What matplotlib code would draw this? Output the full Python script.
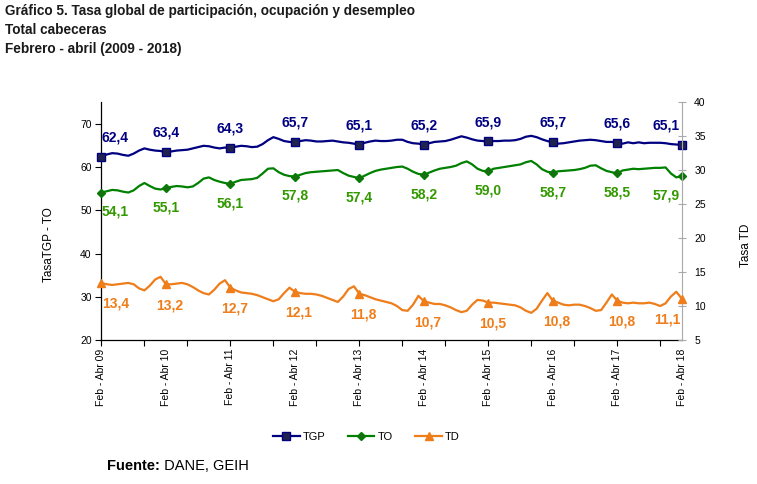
import numpy as np
import matplotlib.pyplot as plt
from matplotlib.ticker import FixedLocator, NullFormatter

plt.rcParams['font.family'] = ['Liberation Sans', 'DejaVu Sans']

# periodo movil feb-abr 2009 ... feb-abr 2018 (un punto por mes)
years = ['09', '10', '11', '12', '13', '14', '15', '16', '17', '18']
tick_labels = ['Feb - Abr ' + y for y in years]

tgp = [62.4, 62.9, 63.2, 63.1, 62.8, 62.6, 63.1, 63.8, 64.3, 64.0, 63.8, 63.7,
       63.4, 63.6, 63.8, 63.9, 64.0, 64.3, 64.6, 64.9, 64.8, 64.5, 64.3, 64.5,
       64.3, 64.7, 64.9, 64.8, 64.6, 64.7, 65.3, 66.2, 66.9, 66.5, 66.0, 65.8,
       65.7, 66.0, 66.2, 66.1, 65.9, 65.9, 66.0, 66.1, 65.9, 65.7, 65.6, 65.4,
       65.1, 65.6, 65.9, 66.1, 66.0, 66.0, 66.1, 66.3, 66.3, 65.8, 65.5, 65.4,
       65.2, 65.5, 65.8, 65.9, 66.0, 66.3, 66.7, 67.1, 66.8, 66.4, 66.1, 66.0,
       65.9, 66.0, 66.0, 66.1, 66.1, 66.2, 66.5, 67.0, 67.2, 66.9, 66.4, 66.0,
       65.7, 65.4, 65.5, 65.7, 65.9, 66.1, 66.2, 66.3, 66.2, 66.0, 65.8, 65.8,
       65.6, 65.4, 65.7, 65.5, 65.7, 65.5, 65.6, 65.6, 65.6, 65.5, 65.3, 65.2,
       65.1]
to = [54.1, 54.4, 54.7, 54.6, 54.3, 54.1, 54.6, 55.6, 56.3, 55.6, 55.0, 54.8,
      55.1, 55.4, 55.6, 55.5, 55.3, 55.5, 56.3, 57.3, 57.6, 57.0, 56.6, 56.3,
      56.1, 56.6, 57.0, 57.1, 57.2, 57.5, 58.5, 59.6, 59.7, 58.8, 58.2, 57.9,
      57.8, 58.2, 58.6, 58.8, 58.9, 59.0, 59.1, 59.2, 59.3, 58.6, 58.0, 57.7,
      57.4, 58.0, 58.6, 59.1, 59.4, 59.6, 59.8, 60.0, 60.1, 59.6, 58.9, 58.4,
      58.2, 58.7, 59.2, 59.6, 59.8, 60.0, 60.3, 60.9, 61.3, 60.6, 59.6, 59.1,
      59.0, 59.6, 59.8, 60.0, 60.2, 60.4, 60.6, 61.1, 61.4, 60.6, 59.5, 58.9,
      58.7, 59.0, 59.1, 59.2, 59.3, 59.5, 59.8, 60.3, 60.4, 59.7, 59.1, 58.8,
      58.5, 59.2, 59.4, 59.6, 59.5, 59.6, 59.7, 59.8, 59.8, 59.9, 58.5, 57.6,
      57.9]
td = [13.4, 13.2, 13.1, 13.2, 13.3, 13.4, 13.2, 12.6, 12.3, 13.0, 13.9, 14.3,
      13.2, 13.2, 13.3, 13.4, 13.2, 12.8, 12.3, 11.9, 11.7, 12.4, 13.3, 13.8,
      12.7, 12.3, 12.0, 11.9, 11.8, 11.6, 11.3, 11.0, 10.7, 11.0, 11.9, 12.7,
      12.1, 11.9, 11.8, 11.8, 11.7, 11.5, 11.2, 10.9, 10.6, 11.4, 12.5, 12.9,
      11.8, 11.6, 11.3, 11.0, 10.8, 10.6, 10.4, 10.0, 9.4, 9.3, 10.2, 11.5,
      10.7, 10.5, 10.3, 10.3, 10.1, 9.8, 9.4, 9.1, 9.3, 10.2, 10.9, 10.8,
      10.5, 10.5, 10.4, 10.3, 10.2, 10.1, 9.8, 9.3, 9.0, 9.6, 10.8, 11.9,
      10.8, 10.5, 10.2, 10.1, 10.2, 10.2, 10.0, 9.7, 9.3, 9.4, 10.5, 11.7,
      10.8, 10.5, 10.4, 10.5, 10.4, 10.4, 10.5, 10.3, 10.0, 10.4, 11.4, 12.1,
      11.1]

x = np.arange(len(tgp))
feb_abr = x[::12]

c_tgp = '#000080'
c_to = '#008000'
c_td = '#EE7D1A'

fig = plt.figure(figsize=(7.57, 4.84), dpi=100)
ax = fig.add_axes([0.134, 0.2975, 0.7665, 0.4915])
ax2 = ax.twinx()

l1, = ax.plot(x, tgp, color=c_tgp, lw=1.6, marker='s', markevery=12, ms=6,
              mfc='#22224f', mec=c_tgp, clip_on=False, label='TGP', zorder=3)
l2, = ax.plot(x, to, color=c_to, lw=1.6, marker='D', markevery=12, ms=4.5,
              mfc='#1d6b12', mec=c_to, clip_on=False, label='TO', zorder=3)
l3, = ax2.plot(x, td, color=c_td, lw=1.6, marker='^', markevery=12, ms=6,
               mfc=c_td, mec=c_td, clip_on=False, label='TD', zorder=3)


def fmt(v):
    return f'{v:.1f}'.replace('.', ',')


n = len(feb_abr)
for k, i in enumerate(feb_abr):
    dx = 10 if k == 0 else (-11 if k == n - 1 else 0)
    ax.annotate(fmt(tgp[i]), (x[i], tgp[i]), xytext=(dx, 14), textcoords='offset points',
                ha='center', va='center', fontsize=10, fontweight='bold', color=c_tgp)
    ax.annotate(fmt(to[i]), (x[i], to[i]), xytext=(dx, -14), textcoords='offset points',
                ha='center', va='center', fontsize=10, fontweight='bold', color='#339900')
    dx3 = 10 if k == 0 else (-10 if k == n - 1 else 3)
    ax2.annotate(fmt(td[i]), (x[i], td[i]), xytext=(dx3, -15), textcoords='offset points',
                 ha='center', va='center', fontsize=10, fontweight='bold', color=c_td)

ax.set_xlim(0, 108)
ax.set_ylim(20, 75)
ax.set_yticks([20, 30, 40, 50, 60, 70])
ax2.set_ylim(5, 40)
ax2.set_yticks([5, 10, 15, 20, 25, 30, 35, 40])

# etiquetas cada 12 meses, marcas cada 8
ax.xaxis.set_major_locator(FixedLocator(list(feb_abr)))
ax.set_xticklabels(tick_labels, rotation=90, fontsize=7.5)
ax.xaxis.set_minor_locator(FixedLocator(list(range(0, 109, 8))))
ax.xaxis.set_minor_formatter(NullFormatter())
ax.xaxis.remove_overlapping_locs = False
ax.tick_params(axis='x', which='major', length=0, pad=6)
ax.tick_params(axis='x', which='minor', length=4, direction='out', width=0.8)

ax.tick_params(axis='y', labelsize=7.5, length=4, width=0.8, pad=3)
ax2.tick_params(axis='y', labelsize=7.5, length=6, width=0.8, direction='inout',
                color='#aaaaaa', pad=6)

ax.spines['top'].set_visible(False)
ax2.spines['top'].set_visible(False)
ax.spines['right'].set_visible(False)
ax2.spines['left'].set_visible(False)
ax2.spines['bottom'].set_visible(False)
ax2.spines['right'].set_color('#aaaaaa')
ax.spines['left'].set_linewidth(0.9)
ax.spines['bottom'].set_linewidth(0.9)

ax.set_ylabel('TasaTGP - TO', fontsize=8.5)
ax.yaxis.set_label_coords(-0.08, 0.40)
ax2.set_ylabel('Tasa TD', fontsize=8.5, rotation=90)
ax2.yaxis.set_label_coords(1.10, 0.40)

fig.legend(handles=[l1, l2, l3], loc='center', bbox_to_anchor=(0.484, 0.097), ncol=3,
           frameon=False, fontsize=8, handlelength=2.4, columnspacing=2.0, handletextpad=0.3)

tc = '#1a1a1a'
fig.text(0.007, 0.969, 'Gráfico 5. Tasa global de participación, ocupación y desempleo',
         fontsize=9.8, fontweight='bold', color=tc, va='baseline')
fig.text(0.007, 0.930, 'Total cabeceras', fontsize=9.8, fontweight='bold', color=tc, va='baseline')
fig.text(0.007, 0.890, 'Febrero - abril (2009 - 2018)', fontsize=9.8, fontweight='bold', color=tc,
         va='baseline')

src = fig.text(0.141, 0.029, 'Fuente:', fontsize=10.5, fontweight='bold', va='baseline')
ax.annotate(' DANE, GEIH', xy=(1, 0), xycoords=src, fontsize=10.5, ha='left', va='bottom',
            annotation_clip=False)

fig.savefig('out.png', dpi=100)
